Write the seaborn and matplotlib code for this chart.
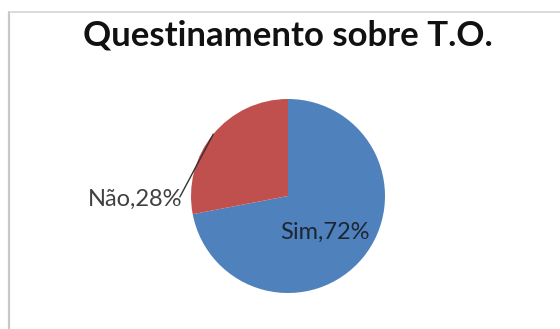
import numpy as np
import matplotlib
matplotlib.use("Agg")
import matplotlib.pyplot as plt
from matplotlib.lines import Line2D
import seaborn as sns

# Survey answers
categories = ["Sim", "Não"]
percentages = [72, 28]
colors = ["#4F81BD", "#C0504D"]
title = "Questinamento sobre T.O."

sns.set_theme(style="white")
plt.rcParams["font.family"] = ["Lato", "DejaVu Sans"]

fig = plt.figure(figsize=(5.6, 3.29), dpi=100)
fig.patch.set_facecolor("white")

# chart frame (left and top edges)
fig.add_artist(Line2D([8.5 / 560, 8.5 / 560], [0, 1 - 11.5 / 329],
                      transform=fig.transFigure, color="#c8c8c8", lw=1.6))
fig.add_artist(Line2D([8.5 / 560, 1], [1 - 11.5 / 329, 1 - 11.5 / 329],
                      transform=fig.transFigure, color="#d4d4d4", lw=1.2))

fig.text(288 / 560, 1 - 46 / 329, title, ha="center", va="baseline",
         fontsize=25, fontweight="bold", color="#111111")

cx, cy, r = 288, 196, 97
ax = fig.add_axes([(cx - r) / 560, (329 - cy - r) / 329, 2 * r / 560, 2 * r / 329])
wedges, _ = ax.pie(percentages, colors=colors, startangle=90, counterclock=False,
                   wedgeprops=dict(linewidth=0))
ax.set_xlim(-1, 1)
ax.set_ylim(-1, 1)
ax.set_aspect("equal")
ax.axis("off")

# Sim label inside its slice
ax.text(0.38, -0.37, f"{categories[0]},{percentages[0]}%", ha="center", va="center",
        fontsize=17, color="#1d2633")

# Não label outside with a leader line to the middle of its slice
w = wedges[1]
mid = np.deg2rad((w.theta1 + w.theta2) / 2)
tip = (np.cos(mid), np.sin(mid))
ax.plot([-1.115, tip[0]], [-0.01, tip[1]], color="#333333", lw=1.0, clip_on=False)
ax.text(-1.085, -0.03, f"{categories[1]},{percentages[1]}%", ha="right", va="center",
        fontsize=17, color="#404040")

fig.savefig("out.png", dpi=100, facecolor="white")
